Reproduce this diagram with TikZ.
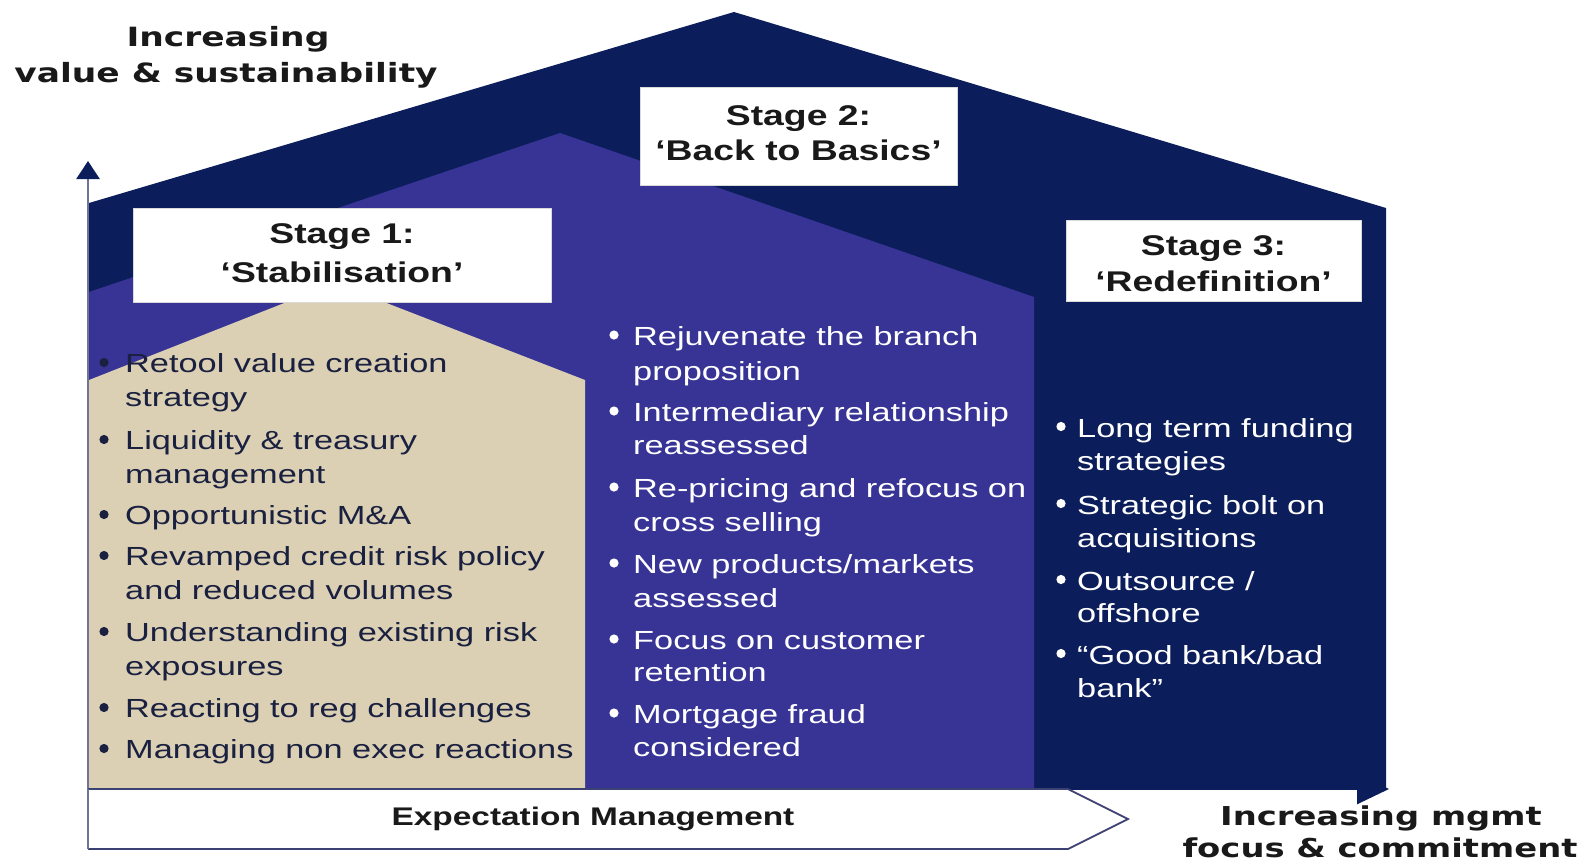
\documentclass[tikz,border=0pt]{standalone}
\usepackage{fontspec}
\usetikzlibrary{arrows.meta}
\newfontfamily\arialS[FakeStretch=1.31]{Liberation Sans}
\newfontfamily\verdS[FakeStretch=1.3]{DejaVu Sans}
\definecolor{housenavy}{HTML}{0B1E5B}
\definecolor{housepurple}{HTML}{373496}
\definecolor{housebeige}{HTML}{DBD0B3}
\definecolor{axisgray}{HTML}{6F7396}
\definecolor{boxedge}{HTML}{3C4173}
\definecolor{txtdark}{HTML}{1A2040}
\newcommand\bultxtfont{\arialS\fontsize{26.2}{32}\selectfont}
\newcommand\stgtxtfont{\arialS\bfseries\fontsize{28.5}{34}\selectfont}
\newcommand\axtxtfont{\verdS\bfseries\fontsize{26.5}{32}\selectfont}
\tikzset{
  ltxt/.style={anchor=base west, inner sep=0pt, text=txtdark, font=\bultxtfont},
  wtxt/.style={anchor=base west, inner sep=0pt, text=white, font=\bultxtfont},
  stgtxt/.style={anchor=base, inner sep=0pt, text=black!90, font=\stgtxtfont},
  axtxt/.style={anchor=base, inner sep=0pt, text=black!90, font=\axtxtfont},
  stagebox/.style={draw=gray!30, line width=0.8pt, fill=white, inner sep=0pt},
  axisline/.style={draw=axisgray, line width=2.6pt},
  dbul/.style={fill=txtdark},
  wbul/.style={fill=white},
}
\begin{document}
\begin{tikzpicture}[x=1pt,y=-1pt]
\useasboundingbox (0,0) rectangle (1588,863);
% axes
\coordinate (vbot) at (88,849);
\coordinate (vtop) at (88,161);
\coordinate (horg) at (88,789);
\coordinate (hend) at (1389,789);
\draw[axisline, -{Triangle[width=23pt,length=18pt,color=housenavy]}] (vbot) -- (vtop);
\draw[axisline, draw=housenavy, -{Triangle[width=30pt,length=32pt,color=housenavy]}] (horg) -- (hend);
% houses
\fill[housenavy] (89,203) -- (734,12) -- (1386,208) -- (1386,789) -- (89,789) -- cycle;
\fill[housepurple] (89,292) -- (560,133) -- (1034,297) -- (1034,789) -- (89,789) -- cycle;
\fill[housebeige] (89,380) -- (335,283) -- (585,380) -- (585,789) -- (89,789) -- cycle;
\draw[housenavy, line width=1.5pt] (89,789) -- (1386,789);
% expectation arrow
\coordinate (e1) at (88,789);
\coordinate (e2) at (1068,789);
\coordinate (e3) at (1128,819);
\coordinate (e4) at (1068,849);
\coordinate (e5) at (88,849);
\filldraw[fill=white, draw=boxedge, line width=1.8pt] (e1) -- (e2) -- (e3) -- (e4) -- (e5);
\draw[axisline] (e5) -- (e1);
\node[anchor=base, inner sep=0pt, text=black!90, font=\arialS\bfseries\fontsize{25.5}{30}\selectfont] (expm) at (593,825) {Expectation Management};
% axis titles
\node[axtxt] (vt1) at (228,46) {Increasing};
\node[axtxt] (vt2) at (226,82) {value \& sustainability};
\node[axtxt, font=\verdS\bfseries\fontsize{26}{32}\selectfont] (ht1) at (1381,825) {Increasing mgmt};
\node[axtxt, font=\verdS\bfseries\fontsize{26}{32}\selectfont] (ht2) at (1380,857) {focus \& commitment};
% stage boxes
\node[stagebox, minimum width=418pt, minimum height=94pt] (s1box) at (342,255) {};
\node[stgtxt] (s1a) at (342,243) {Stage 1:};
\node[stgtxt] (s1b) at (342,282) {‘Stabilisation’};
\node[stagebox, minimum width=317pt, minimum height=98pt] (s2box) at (798.5,136) {};
\node[stgtxt] (s2a) at (798.5,125) {Stage 2:};
\node[stgtxt] (s2b) at (798.5,160) {‘Back to Basics’};
\node[stagebox, minimum width=295pt, minimum height=81pt] (s3box) at (1213.5,260.5) {};
\node[stgtxt] (s3a) at (1213.5,255) {Stage 3:};
\node[stgtxt] (s3b) at (1213.5,291) {‘Redefinition’};
% left column
\foreach \y in {372,449,524,565,641,717,758} \fill[dbul] (104,\y-9.5) circle (4.6pt);
\node[ltxt] (l1a) at (125,372) {Retool value creation};
\node[ltxt] (l1b) at (125,406) {strategy};
\node[ltxt] (l2a) at (125,449) {Liquidity \& treasury};
\node[ltxt] (l2b) at (125,483) {management};
\node[ltxt] (l3a) at (125,524) {Opportunistic M\&A};
\node[ltxt] (l4a) at (125,565) {Revamped credit risk policy};
\node[ltxt] (l4b) at (125,599) {and reduced volumes};
\node[ltxt] (l5a) at (125,641) {Understanding existing risk};
\node[ltxt] (l5b) at (125,675) {exposures};
\node[ltxt] (l6a) at (125,717) {Reacting to reg challenges};
\node[ltxt] (l7a) at (125,758) {Managing non exec reactions};
% middle column
\foreach \y in {345,421,497,573,649,723} \fill[wbul] (614,\y-10) circle (4.6pt);
\node[wtxt] (m1a) at (633,345) {Rejuvenate the branch};
\node[wtxt] (m1b) at (633,380) {proposition};
\node[wtxt] (m2a) at (633,421) {Intermediary relationship};
\node[wtxt] (m2b) at (633,454) {reassessed};
\node[wtxt] (m3a) at (633,497) {Re-pricing and refocus on};
\node[wtxt] (m3b) at (633,531) {cross selling};
\node[wtxt] (m4a) at (633,573) {New products/markets};
\node[wtxt] (m4b) at (633,607) {assessed};
\node[wtxt] (m5a) at (633,649) {Focus on customer};
\node[wtxt] (m5b) at (633,681) {retention};
\node[wtxt] (m6a) at (633,723) {Mortgage fraud};
\node[wtxt] (m6b) at (633,756) {considered};
% right column
\foreach \y in {437,514,590,664} \fill[wbul] (1061,\y-10.5) circle (4.6pt);
\node[wtxt] (r1a) at (1077,437) {Long term funding};
\node[wtxt] (r1b) at (1077,470) {strategies};
\node[wtxt] (r2a) at (1077,514) {Strategic bolt on};
\node[wtxt] (r2b) at (1077,547) {acquisitions};
\node[wtxt] (r3a) at (1077,590) {Outsource /};
\node[wtxt] (r3b) at (1077,622) {offshore};
\node[wtxt] (r4a) at (1077,664) {“Good bank/bad};
\node[wtxt] (r4b) at (1077,697) {bank”};
\end{tikzpicture}
\end{document}
